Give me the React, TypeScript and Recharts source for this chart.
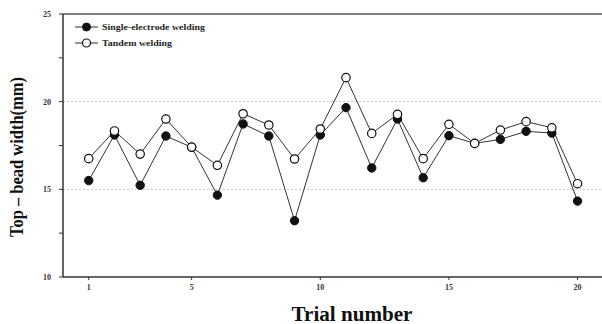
import React from "react";
import { LineChart, Line, XAxis, YAxis, ReferenceLine, Customized } from "recharts";

const trials = [1, 2, 3, 4, 5, 6, 7, 8, 9, 10, 11, 12, 13, 14, 15, 16, 17, 18, 19, 20];
const singleElectrode = [15.5, 18.1, 15.23, 18.04, 17.4, 14.67, 18.73, 18.04, 13.21, 18.1, 19.66, 16.22, 19.01, 15.66, 18.06, 17.62, 17.85, 18.31, 18.21, 14.33];
const tandem = [16.75, 18.33, 17.01, 19.01, 17.41, 16.37, 19.31, 18.67, 16.73, 18.44, 21.37, 18.19, 19.28, 16.75, 18.71, 17.62, 18.38, 18.86, 18.51, 15.32];
const xTicks = [1, 5, 10, 15, 20];
const yTicks = [10, 12.5, 15, 17.5, 20, 22.5, 25];
const gridValues = [15, 20];
const seriesNames = ["Single-electrode welding", "Tandem welding"];
const xTitle = "Trial number";
const yTitle = "Top – bead width(mm)";

const data = trials.map((t, i) => ({ trial: t, single: singleElectrode[i], tandem: tandem[i] }));

const SERIF = "'Liberation Serif', 'Times New Roman', serif";

const Overlay = () => (
  <g>
    {/* legend */}
    <line x1={75} y1={27} x2={98} y2={27} stroke="#333" strokeWidth={1} />
    <circle cx={86.5} cy={27} r={4} fill="#111" stroke="#111" />
    <text x={102} y={30} fontFamily={SERIF} fontWeight="bold" fontSize={8.5} fill="#222" textLength={103} lengthAdjust="spacingAndGlyphs">{seriesNames[0]}</text>
    <line x1={75} y1={43} x2={98} y2={43} stroke="#333" strokeWidth={1} />
    <circle cx={86.5} cy={43} r={4} fill="#fff" stroke="#111" strokeWidth={1.2} />
    <text x={102} y={46} fontFamily={SERIF} fontWeight="bold" fontSize={8.5} fill="#222" textLength={70} lengthAdjust="spacingAndGlyphs">{seriesNames[1]}</text>
    {/* axis titles */}
    <text x={352} y={321} textAnchor="middle" fontFamily={SERIF} fontWeight="bold" fontSize={20} fill="#111" textLength={121} lengthAdjust="spacingAndGlyphs">{xTitle}</text>
    <text x={0} y={0} transform="translate(23,157) rotate(-90)" textAnchor="middle" fontFamily={SERIF} fontWeight="bold" fontSize={19} fill="#111" textLength={160} lengthAdjust="spacingAndGlyphs">{yTitle}</text>
  </g>
);

export default function App() {
  return (
    <div style={{ position: "absolute", left: 0, top: 0, width: 602, height: 324, background: "#fff" }}>
      <LineChart width={602} height={324} data={data} margin={{ top: 14, right: 0, bottom: 0, left: 0 }}>
        <XAxis
          dataKey="trial"
          type="number"
          domain={[0, 20.95]}
          ticks={xTicks}
          allowDataOverflow
          height={47}
          tickSize={3}
          tickMargin={4}
          axisLine={{ stroke: "#333", strokeWidth: 1.5 }}
          tickLine={{ stroke: "#333" }}
          tick={{ fontFamily: SERIF, fontSize: 8, fontWeight: "bold", fill: "#333" }}
        />
        <YAxis
          type="number"
          domain={[10, 25]}
          ticks={yTicks}
          width={63}
          tickSize={4}
          tickMargin={8}
          interval={0}
          tickFormatter={(v: number) => (Number.isInteger(v) ? String(v) : "")}
          axisLine={{ stroke: "#333", strokeWidth: 1.5 }}
          tickLine={{ stroke: "#333" }}
          tick={{ fontFamily: SERIF, fontSize: 8, fontWeight: "bold", fill: "#333" }}
        />
        {gridValues.map((g) => (
          <ReferenceLine key={g} y={g} stroke="#c4c4c4" strokeDasharray="2 2" strokeWidth={1} />
        ))}
        <ReferenceLine y={25} stroke="#555" strokeWidth={1.5} />
        <Line
          dataKey="single"
          stroke="#333"
          strokeWidth={1}
          isAnimationActive={false}
          dot={{ r: 4.2, fill: "#111", stroke: "#111", strokeWidth: 1 }}
          activeDot={false}
        />
        <Line
          dataKey="tandem"
          stroke="#333"
          strokeWidth={1}
          isAnimationActive={false}
          dot={{ r: 4.2, fill: "#fff", stroke: "#111", strokeWidth: 1.2 }}
          activeDot={false}
        />
        <Customized component={Overlay} />
      </LineChart>
    </div>
  );
}
